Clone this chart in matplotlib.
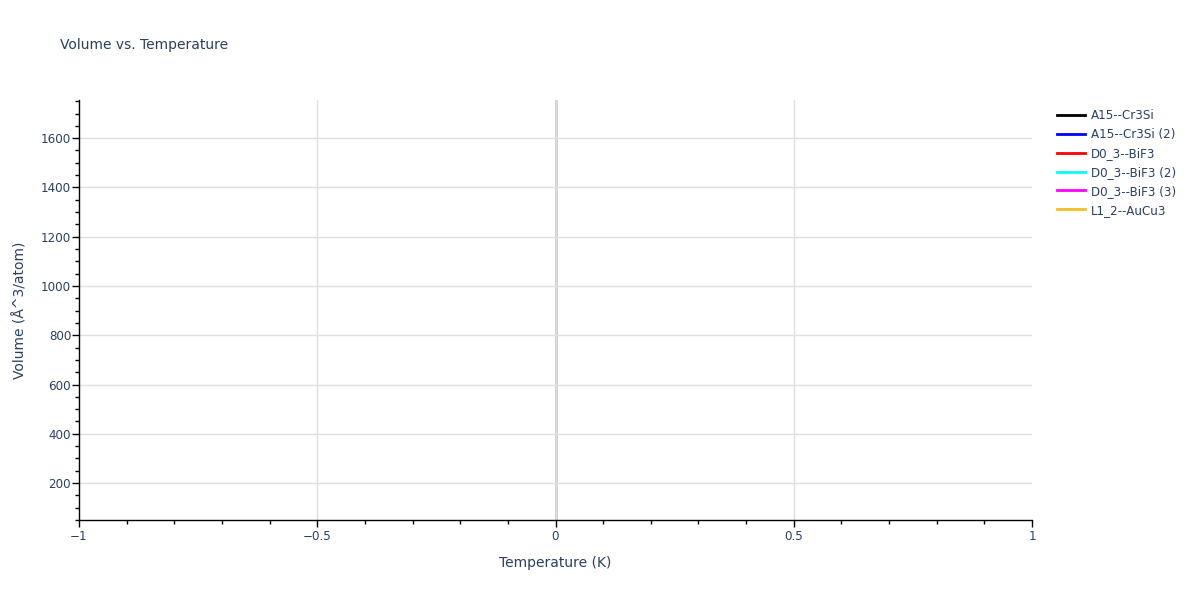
import matplotlib
matplotlib.use("Agg")
import matplotlib.pyplot as plt
from matplotlib.ticker import MultipleLocator

plt.rcParams['font.family'] = ['DejaVu Sans']

series_names = ["A15--Cr3Si", "A15--Cr3Si (2)", "D0_3--BiF3", "D0_3--BiF3 (2)", "D0_3--BiF3 (3)", "L1_2--AuCu3"]
series_colors = ["#000000", "#0000ff", "#ff0000", "#00ffff", "#ff00ff", "#f0c020"]
# No data visible in the reference: each series is empty
temperature = [[], [], [], [], [], []]
volume = [[], [], [], [], [], []]

x_ticks = [-1, -0.5, 0, 0.5, 1]
x_tick_labels = ["\u22121", "\u22120.5", "0", "0.5", "1"]
y_ticks = [200, 400, 600, 800, 1000, 1200, 1400, 1600]

txt = "#2a3f5f"
fig = plt.figure(figsize=(12, 6), dpi=100)
ax = fig.add_axes([79/1200, 80/600, (1032-79)/1200, 420/600])

for t, v, name, c in zip(temperature, volume, series_names, series_colors):
    ax.plot(t, v, color=c, lw=2, label=name)

ax.set_xlim(-1, 1)
ax.set_ylim(50, 1755)
ax.set_xticks(x_ticks)
ax.set_xticklabels(x_tick_labels)
ax.set_yticks(y_ticks)
ax.xaxis.set_minor_locator(MultipleLocator(0.1))
ax.yaxis.set_minor_locator(MultipleLocator(50))

for s in ["top", "right"]:
    ax.spines[s].set_visible(False)
for s in ["left", "bottom"]:
    ax.spines[s].set_color("#000000")
    ax.spines[s].set_linewidth(1)

ax.grid(True, which="major", color="#e0e0e0", lw=1)
ax.set_axisbelow(True)
ax.axvline(0, color="#c8c8c8", lw=2, zorder=0.5)

ax.tick_params(which="major", direction="out", length=5, width=1, color="#000000",
               labelsize=8.6, labelcolor=txt)
ax.tick_params(axis="x", which="major", pad=2.5)
ax.tick_params(axis="y", which="major", pad=0.6)
ax.tick_params(which="minor", direction="out", length=3, width=1, color="#000000")

# no grid lines on the plot edges
xgl = ax.get_xgridlines()
xgl[0].set_visible(False)
xgl[-1].set_visible(False)

ax.set_xlabel("Temperature (K)", fontsize=10, color=txt, labelpad=9)
ax.set_ylabel("Volume (\u00c5^3/atom)", fontsize=10, color=txt, labelpad=10)

fig.text(60/1200, 1 - 45/600, "Volume vs. Temperature", fontsize=10, color=txt,
         va="center", ha="left")

leg = fig.legend(loc="upper left", bbox_to_anchor=(1052/1200, 1 - 104/600), frameon=False,
                 fontsize=8.6, handlelength=2.35, handletextpad=0.5, labelspacing=0.5,
                 borderaxespad=0)
for t in leg.get_texts():
    t.set_color(txt)

fig.savefig("out.png", dpi=100, facecolor="white")
